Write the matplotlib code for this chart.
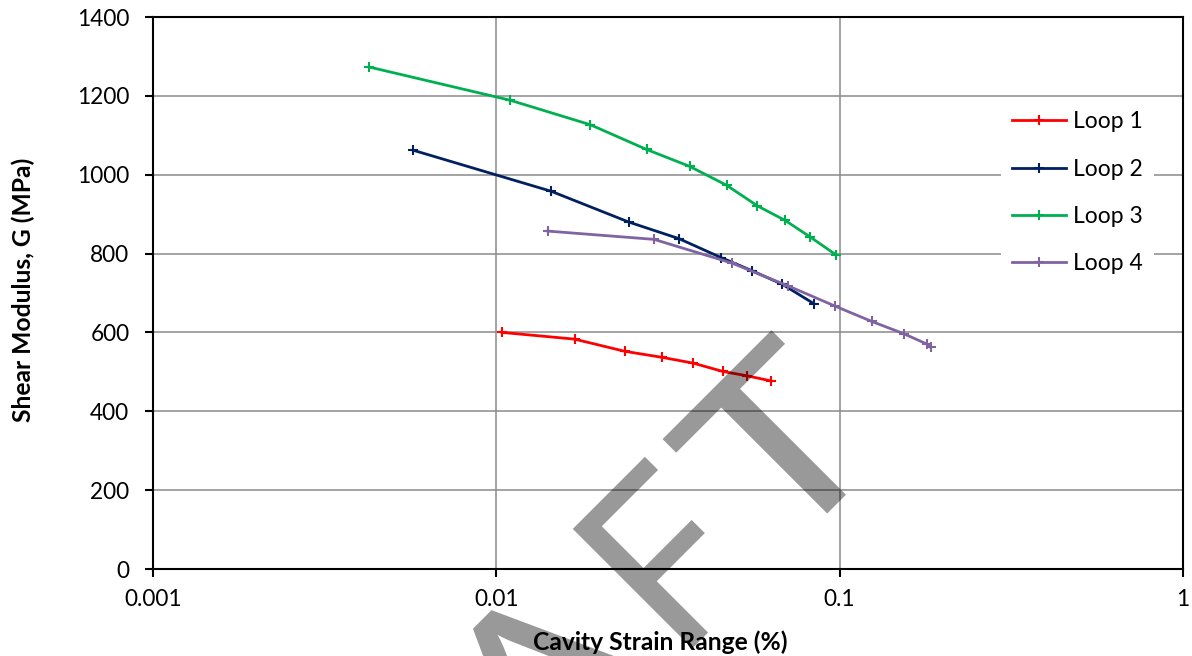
import numpy as np
import matplotlib
matplotlib.use("Agg")
import matplotlib.pyplot as plt
from matplotlib.textpath import TextPath
from matplotlib.font_manager import FontProperties
from matplotlib.path import Path
from matplotlib.patches import PathPatch
from matplotlib.transforms import IdentityTransform

# ---- data: cavity strain range (%) vs shear modulus G (MPa) ----
loop1_strain = [0.0104, 0.0169, 0.0237, 0.0303, 0.0375, 0.0457, 0.0537, 0.0631]
loop1_G = [600, 583, 552, 537, 522, 501, 490, 477]

loop2_strain = [0.00573, 0.01445, 0.0243, 0.0340, 0.0451, 0.0557, 0.0681, 0.0841]
loop2_G = [1062, 958, 880, 838, 790, 756, 722, 673]

loop3_strain = [0.00427, 0.01096, 0.01876, 0.0274, 0.0366, 0.0469, 0.0576,
                0.0694, 0.0821, 0.0975]
loop3_G = [1273, 1189, 1127, 1064, 1021, 973, 921, 884, 842, 797]

loop4_strain = [0.01413, 0.0288, 0.0485, 0.0708, 0.0968, 0.1239, 0.1535, 0.180, 0.184]
loop4_G = [857, 836, 776, 718, 667, 628, 597, 570, 562]

series_labels = ["Loop 1", "Loop 2", "Loop 3", "Loop 4"]
series_colors = ["#FF0000", "#002060", "#00B050", "#8064A2"]

x_ticks = [0.001, 0.01, 0.1, 1]
x_tick_labels = ["0.001", "0.01", "0.1", "1"]
y_ticks = [0, 200, 400, 600, 800, 1000, 1200, 1400]

plt.rcParams["font.family"] = ["Lato", "DejaVu Sans"]

W, H = 1192, 656
fig = plt.figure(figsize=(W / 100, H / 100), dpi=100)
ax = fig.add_axes([153 / W, (H - 569) / H, (1183 - 153) / W, (569 - 17) / H])

series = [(loop1_strain, loop1_G), (loop2_strain, loop2_G),
          (loop3_strain, loop3_G), (loop4_strain, loop4_G)]
for (xs, ys), lab, col in zip(series, series_labels, series_colors):
    ax.plot(xs, ys, color=col, lw=2.0, marker="+", ms=7.5, mew=1.5,
            label=lab, zorder=3)

ax.set_xscale("log")
ax.set_xlim(0.001, 1)
ax.set_ylim(0, 1400)
ax.set_xticks(x_ticks)
ax.set_xticklabels(x_tick_labels)
ax.xaxis.set_minor_locator(matplotlib.ticker.NullLocator())
ax.set_yticks(y_ticks)

ax.grid(True, which="major", color="#8a8a8a", lw=1.1)
ax.set_axisbelow(True)
for s in ax.spines.values():
    s.set_color("black")
    s.set_linewidth(1.5)
ax.tick_params(axis="both", which="major", direction="out", length=6,
               width=1.5, labelsize=16.3, colors="black")
ax.tick_params(axis="x", pad=8.5)
ax.tick_params(axis="y", pad=11)

leg = ax.legend(loc="upper left", bbox_to_anchor=(0.823, 0.85),
                borderaxespad=0, frameon=True, fancybox=False,
                facecolor="white", edgecolor="none", framealpha=1,
                fontsize=16.5, handlelength=2.35, handletextpad=0.3,
                borderpad=0.5, labelspacing=1.15)

fig.text(660 / W, 1 - 642 / H, "Cavity Strain Range (%)", ha="center",
         va="center", fontsize=17.7, fontweight="bold")
fig.text(23 / W, 1 - 290 / H, "Shear Modulus, G (MPa)", ha="center",
         va="center", rotation=90, fontsize=17.7, fontweight="bold")

# ---- diagonal "DRAFT" watermark, stretched letters at 45 degrees ----
wm_font = FontProperties(family="Lato")
wm_letters = ["D", "R", "A", "F", "T"]
wm_spans = [(-570, -395), (-375, -205), (-187, -7), (31, 133), (158, 312)]
cap_top, base = 779.0, 948.0
verts_all, codes_all = [], []
for ch, (r0, r1) in zip(wm_letters, wm_spans):
    tp = TextPath((0, 0), ch, size=100, prop=wm_font)
    v = np.array(tp.vertices, dtype=float)
    c = np.array(tp.codes)
    real = c != Path.CLOSEPOLY
    x0, x1 = v[real, 0].min(), v[real, 0].max()
    ytop = v[real, 1].max()
    r = r0 + (v[:, 0] - x0) / (x1 - x0) * (r1 - r0)
    d = base - v[:, 1] / ytop * (base - cap_top)
    xs = (r + d) * np.sqrt(0.5)
    ys = (d - r) * np.sqrt(0.5)
    verts_all.append(np.column_stack([xs, H - ys]))
    codes_all.append(c)
wm_path = Path(np.vstack(verts_all), np.concatenate(codes_all))
fig.add_artist(PathPatch(wm_path, transform=IdentityTransform(),
                         facecolor="black", edgecolor="none", alpha=0.4,
                         zorder=20))

fig.savefig("out.png", dpi=100)
